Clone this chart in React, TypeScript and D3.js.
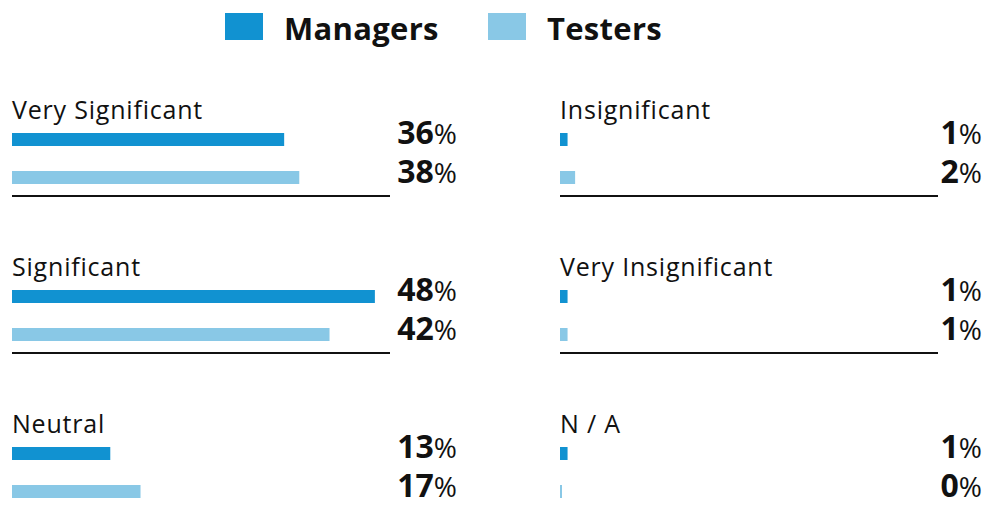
import React from "react";
import * as d3 from "d3";

const categories = ["Very Significant", "Significant", "Neutral", "Insignificant", "Very Insignificant", "N / A"];
const managers = [36, 48, 13, 1, 1, 1];
const testers = [38, 42, 17, 2, 1, 0];
const seriesNames = ["Managers", "Testers"];
const colors = ["#1192d1", "#89c8e6"];

const W = 990;
const H = 508;
const FONT = "'Open Sans', Lato, sans-serif";

export default function App() {
  const x = d3.scaleLinear().domain([0, 50]).range([0, 378]);
  const cols = [
    { x0: 12, valueX: 457 },
    { x0: 560, valueX: 982 },
  ];
  const rowStep = 157;

  const panels = categories.map((c, i) => {
    const col = cols[Math.floor(i / 3)];
    const row = i % 3;
    return { name: c, m: managers[i], t: testers[i], col, row, y0: row * rowStep };
  });

  return (
    <svg width={W} height={H} style={{ position: "absolute", left: 0, top: 0, fontFamily: FONT }}>
      {/* legend */}
      <g>
        {seriesNames.map((s, i) => {
          const lx = i === 0 ? 225 : 488;
          return (
            <g key={s}>
              <rect x={lx} y={13} width={38} height={27} fill={colors[i]} />
              <text x={lx + 59} y={39.5} fontSize={31} fontWeight={700} letterSpacing={0.3} fill="#111">{s}</text>
            </g>
          );
        })}
      </g>
      {panels.map((p) => {
        const { x0, valueX } = p.col;
        const y = p.y0;
        return (
          <g key={p.name}>
            <text x={x0} y={y + 118.5} fontSize={25} letterSpacing={0.8} fill="#111">{p.name}</text>
            <rect x={x0} y={y + 133} width={Math.max(x(p.m), 2)} height={13} fill={colors[0]} />
            <rect x={x0} y={y + 171} width={Math.max(x(p.t), 2)} height={13} fill={colors[1]} />
            <text x={valueX} y={y + 144} textAnchor="end" fontSize={32} fill="#111">
              <tspan fontWeight={700}>{p.m}</tspan><tspan fontSize={28}>%</tspan>
            </text>
            <text x={valueX} y={y + 183} textAnchor="end" fontSize={32} fill="#111">
              <tspan fontWeight={700}>{p.t}</tspan><tspan fontSize={28}>%</tspan>
            </text>
            {p.row < 2 && (
              <line x1={x0} x2={x0 + x(50)} y1={y + 196} y2={y + 196} stroke="#111" strokeWidth={2} />
            )}
          </g>
        );
      })}
    </svg>
  );
}
